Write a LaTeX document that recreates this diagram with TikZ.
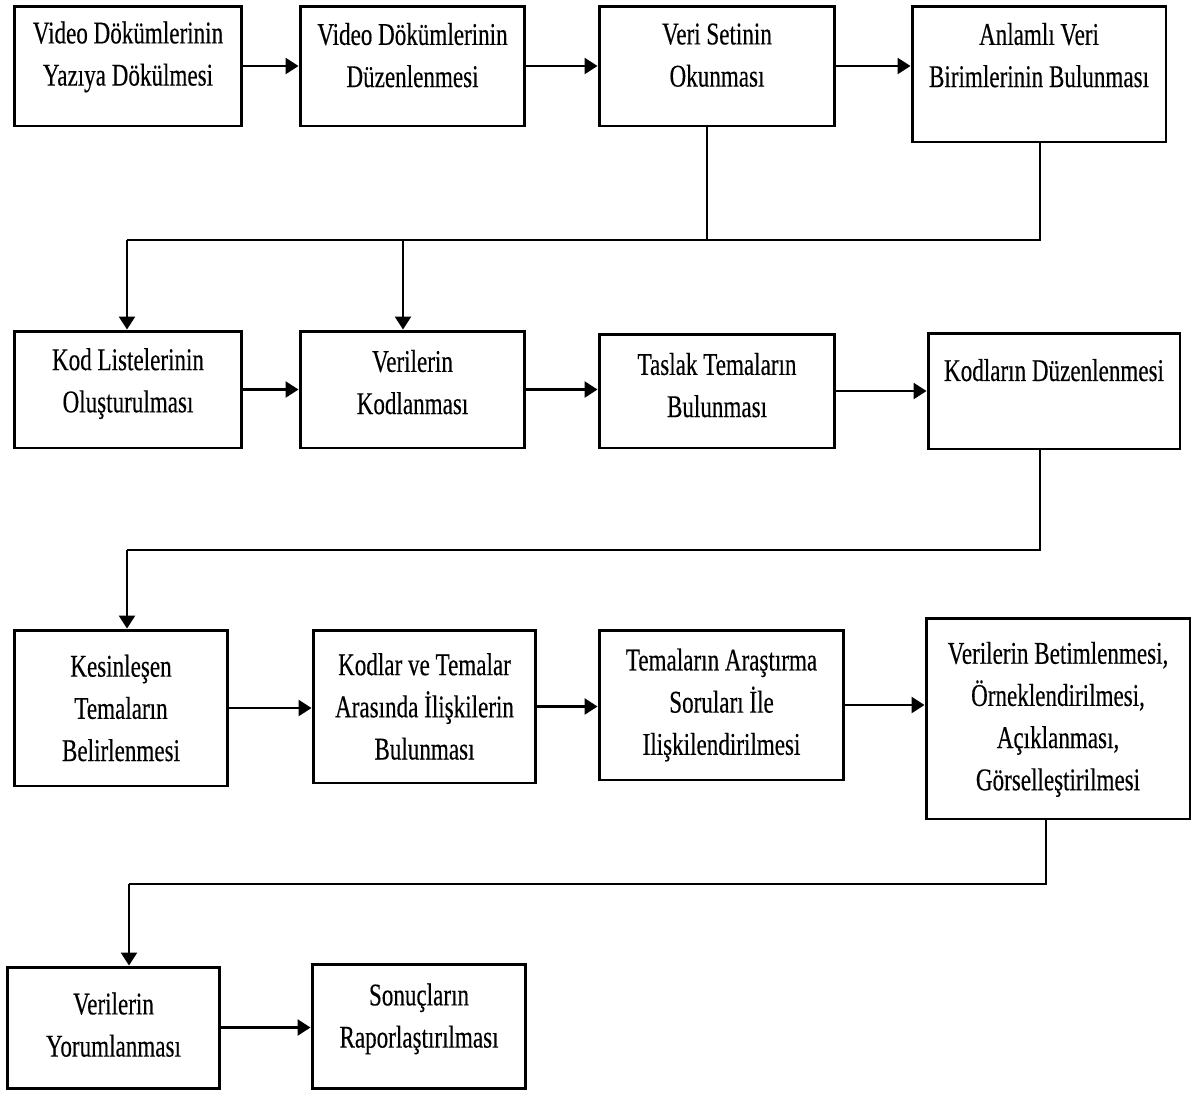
\documentclass[tikz,border=0pt]{standalone}
\usepackage{fontspec}
\setmainfont{Liberation Serif}[FakeStretch=0.73, FakeBold=0.3]
\usetikzlibrary{arrows.meta}
\tikzset{
  box/.style={draw, line width=1.7pt, rectangle, align=center, inner sep=2pt,
    font=\fontsize{18}{24}\selectfont},
  link/.style={line width=1.4pt},
  flow/.style={link, -{Triangle[length=0.26cm,width=0.32cm]}}
}
\begin{document}
\begin{tikzpicture}[x=0.02cm,y=-0.02cm]
  \useasboundingbox (0,0) rectangle (1202,1093);

  \node[box, minimum width=4.56cm, minimum height=2.40cm, text depth=0.5cm] (yazim) at (128,66) {Video Dökümlerinin\\Yazıya Dökülmesi};
  \node[box, minimum width=4.50cm, minimum height=2.40cm, text depth=0.44cm] (duzen) at (412.5,66) {Video Dökümlerinin\\Düzenlenmesi};
  \node[box, minimum width=4.72cm, minimum height=2.40cm, text depth=0.44cm] (okuma) at (717,66) {Veri Setinin\\Okunması};
  \node[box, minimum width=5.08cm, minimum height=2.72cm, text depth=0.76cm] (birim) at (1039,74) {Anlamlı Veri\\Birimlerinin Bulunması};

  \node[box, minimum width=4.56cm, minimum height=2.34cm, text depth=0.37cm] (kodlist) at (128,389.5) {Kod Listelerinin\\Oluşturulması};
  \node[box, minimum width=4.50cm, minimum height=2.34cm, text depth=0.3cm] (kodlama) at (412.5,389.5) {Verilerin\\Kodlanması};
  \node[box, minimum width=4.72cm, minimum height=2.28cm, text depth=0.24cm] (taslak) at (717,391) {Taslak Temaların\\Bulunması};
  \node[box, minimum width=5.04cm, minimum height=2.32cm, text depth=0.84cm] (koddz) at (1054,391) {Kodların Düzenlenmesi};

  \node[box, minimum width=4.28cm, minimum height=3.12cm] (kesin) at (121,708) {Kesinleşen\\Temaların\\Belirlenmesi};
  \node[box, minimum width=4.46cm, minimum height=3.06cm] (iliski) at (424.5,706.5) {Kodlar ve Temalar\\Arasında İlişkilerin\\Bulunması};
  \node[box, minimum width=4.90cm, minimum height=3.00cm] (soru) at (721.5,705) {Temaların Araştırma\\Soruları İle\\Ilişkilendirilmesi};
  \node[box, minimum width=5.28cm, minimum height=4.02cm, text depth=0.1cm] (betim) at (1058,718.5) {Verilerin Betimlenmesi,\\Örneklendirilmesi,\\Açıklanması,\\Görselleştirilmesi};

  \node[box, minimum width=4.26cm, minimum height=2.42cm, text depth=0.12cm] (yorum) at (113.5,1027.5) {Verilerin\\Yorumlanması};
  \node[box, minimum width=4.28cm, minimum height=2.48cm, text depth=0.42cm] (rapor) at (419,1026) {Sonuçların\\Raporlaştırılması};

  \coordinate (bus1a) at (127,240); \coordinate (bus1b) at (403,240);
  \coordinate (bus1c) at (707,240); \coordinate (bus1d) at (1040,240);
  \coordinate (bus2a) at (127,550); \coordinate (bus2b) at (1040,550);
  \coordinate (bus3a) at (129,884); \coordinate (bus3b) at (1046,884);

  \draw[flow] (yazim) -- (duzen); \draw[flow] (duzen) -- (okuma); \draw[flow] (okuma.east) -- (okuma.east -| birim.west);
  \draw[link] (okuma.south -| bus1c) -- (bus1c); \draw[link] (birim.south -| bus1d) -- (bus1d) -- (bus1a);
  \draw[flow] (bus1a) -- (bus1a |- kodlist.north); \draw[flow] (bus1b) -- (bus1b |- kodlama.north);

  \draw[flow] (kodlist) -- (kodlama); \draw[flow] (kodlama.east) -- (kodlama.east -| taslak.west); \draw[flow] (taslak.east) -- (taslak.east -| koddz.west);
  \draw[link] (koddz.south -| bus2b) -- (bus2b) -- (bus2a); \draw[flow] (bus2a) -- (bus2a |- kesin.north);

  \draw[flow] (kesin.east) -- (kesin.east -| iliski.west); \draw[flow] (iliski.east) -- (iliski.east -| soru.west); \draw[flow] (soru.east) -- (soru.east -| betim.west);
  \draw[link] (betim.south -| bus3b) -- (bus3b) -- (bus3a); \draw[flow] (bus3a) -- (bus3a |- yorum.north);

  \draw[flow] (yorum.east) -- (yorum.east -| rapor.west);
\end{tikzpicture}
\end{document}
